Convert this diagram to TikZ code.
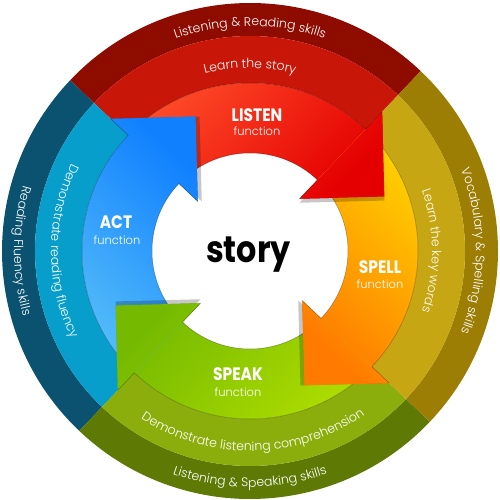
\documentclass[tikz,border=0pt]{standalone}
\usepackage{fontspec}
\setmainfont{Poppins}
\newfontfamily\lightfont{Poppins Light}
\newfontfamily\labfont{Poppins}[FakeStretch=0.86]
\usetikzlibrary{calc,decorations.text}
\definecolor{outR}{RGB}{142,11,0}
\definecolor{midR}{RGB}{200,22,8}
\definecolor{outB}{RGB}{11,82,112}
\definecolor{midB}{RGB}{8,158,204}
\definecolor{outY}{RGB}{156,126,5}
\definecolor{midY}{RGB}{198,166,18}
\definecolor{outG}{RGB}{94,122,5}
\definecolor{midG}{RGB}{140,174,12}
\definecolor{lisT}{RGB}{255,78,42}
\definecolor{lisH}{RGB}{228,0,0}
\definecolor{actT}{RGB}{86,190,248}
\definecolor{actH}{RGB}{16,128,255}
\definecolor{splT}{RGB}{255,212,0}
\definecolor{splH}{RGB}{255,122,0}
\definecolor{spkT}{RGB}{176,222,0}
\definecolor{spkH}{RGB}{118,186,0}
\newcommand{\ringseg}[4]{\fill[#4] ({#1}:#2) arc[start angle={#1},end angle={#1+90},radius=#2] -- ({#1+90}:#3) arc[start angle={#1+90},end angle={#1},radius=#3] -- cycle;}
\newcommand{\bodyp}[1]{({#1}:98) arc[start angle={#1},end angle={#1+90},radius=98] -- ({#1+90}:168) arc[start angle={#1+90},end angle={#1},radius=168] -- cycle}
\newcommand{\headp}[1]{({#1}:72) -- ($({#1}:132)+({#1-90}:60)$) -- ({#1}:192) -- cycle}
\newcommand{\arrfull}[3]{\shade[top color=#2,bottom color=#3,shading angle=#1] \bodyp{#1} \headp{#1};}
\newcommand{\arrhead}[3]{\begin{scope}\clip \headp{#1}; \shade[top color=#2,bottom color=#3,shading angle=#1] \bodyp{#1} \headp{#1};\end{scope}}
\newcommand{\headshadow}[1]{\fill[black,opacity=0.22,shift={({#1-136.5}:4)}] \headp{#1};}
\newcommand{\bodyedges}[1]{\draw[edgeline] ({#1}:98) arc[start angle={#1},end angle={#1+90},radius=98]; \draw[edgeline] ({#1}:168) arc[start angle={#1},end angle={#1+90},radius=168];}
\newcommand{\headedges}[1]{\draw[edgeline] ({#1}:72) -- ({#1}:98); \draw[edgeline] ({#1}:168) -- ({#1}:192);}
\newcommand{\arctext}[5]{\path[decorate,decoration={text along path,text align=center,text={|\color{white}\lightfont\fontsize{#4}{#4}\selectfont|#5}}] ({#1}:#3) arc[start angle={#1},end angle={#2},radius=#3];}
\begin{document}
\begin{tikzpicture}[x=1pt,y=1pt,
  edgeline/.style={draw=black,opacity=0.35,line width=0.5pt},
  lab/.style={text=white,inner sep=0pt,font=\labfont\bfseries\fontsize{18}{18}\selectfont},
  fn/.style={text=white,inner sep=0pt,font=\lightfont\fontsize{11.5}{11.5}\selectfont}]
\useasboundingbox (-250,-249) rectangle (250,251);
% outer ring
\ringseg{46.5}{248}{215}{outR}
\ringseg{136.5}{248}{215}{outB}
\ringseg{226.5}{248}{215}{outG}
\ringseg{-43.5}{248}{215}{outY}
% middle ring
\ringseg{46.5}{215}{168}{midR}
\ringseg{136.5}{215}{168}{midB}
\ringseg{226.5}{215}{168}{midG}
\ringseg{-43.5}{215}{168}{midY}
% arrows
\arrfull{46.5}{lisT}{lisH}
\arrfull{-43.5}{splT}{splH}
\arrfull{226.5}{spkT}{spkH}
\arrfull{136.5}{actT}{actH}
\bodyedges{46.5}\bodyedges{-43.5}\bodyedges{226.5}\bodyedges{136.5}
\headshadow{46.5}\headshadow{-43.5}\headshadow{226.5}\headshadow{136.5}
\arrhead{46.5}{lisT}{lisH}
\arrhead{-43.5}{splT}{splH}
\arrhead{226.5}{spkT}{spkH}
\arrhead{136.5}{actT}{actH}
\headedges{46.5}\headedges{-43.5}\headedges{226.5}\headedges{136.5}
% ring texts
\arctext{130}{50}{225}{12.5}{Listening {\&} Reading skills}
\arctext{125}{55}{183}{12.5}{Learn the story}
\arctext{40}{-40}{226}{12.5}{Vocabulary {\&} Spelling skills}
\arctext{35}{-35}{182}{12.5}{Learn the key words}
\arctext{230}{310}{236}{12.5}{Listening {\&} Speaking skills}
\arctext{225}{317}{200}{12.5}{Demonstrate listening comprehension}
\arctext{140}{220}{236}{12.5}{Reading Fluency skills}
\arctext{140}{220}{199}{12.5}{Demonstrate reading fluency}
% labels
\node[lab] (listen) at (7,136) {LISTEN};
\node[fn] (listenf) at (7,120) {function};
\node[lab] (spell) at (130,-16) {SPELL};
\node[fn] (spellf) at (130,-33) {function};
\node[lab] (speak) at (-12,-123) {SPEAK};
\node[fn] (speakf) at (-12,-141) {function};
\node[lab] (act) at (-134,29) {ACT};
\node[fn] (actf) at (-133,11) {function};
\node[inner sep=0pt,font=\labfont\bfseries\fontsize{37}{37}\selectfont] (story) at (-1.5,-3.5) {story};
\end{tikzpicture}
\end{document}
